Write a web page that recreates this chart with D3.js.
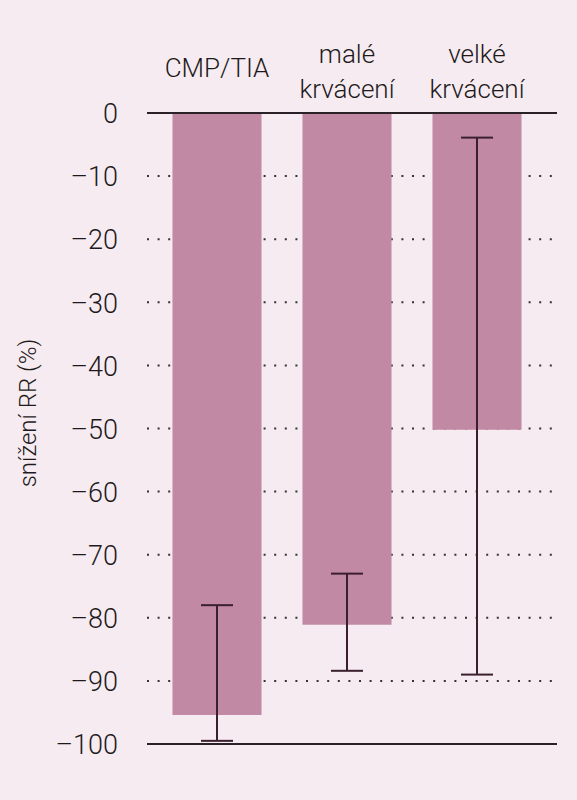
<!DOCTYPE html>
<html>
<head>
<meta charset="utf-8">
<script src="https://cdn.jsdelivr.net/npm/d3@7"></script>
<style>
    html, body { margin: 0; padding: 0; background: #f6ebf0; }
    #chart-area { width: 577px; height: 800px; }
    .label { font-family: Roboto, "Liberation Sans", Arial, sans-serif; font-weight: 300; fill: #1e1a1c; }
</style>
</head>
<body>
<div id="chart-area"></div>
<script>

// Categories (multi-line labels), bar values and 95% CI limits
const categories = ["CMP/TIA", "malé krvácení", "velké krvácení"];
const categoryLines = [["CMP/TIA"], ["malé", "krvácení"], ["velké", "krvácení"]];
const values = [-95.4, -81.1, -50.2];
const ciHigh = [-78.0, -73.0, -3.9];
const ciLow = [-99.5, -88.4, -89.0];
const yTicks = [0, -10, -20, -30, -40, -50, -60, -70, -80, -90, -100];

class BarChart {

    constructor(_parentElement) {
        this.parentElement = _parentElement;
        this.data = categories.map((c, i) => ({
            category: c,
            lines: categoryLines[i],
            value: values[i],
            high: ciHigh[i],
            low: ciLow[i]
        }));
        this.initVis();
    }

    initVis() {
        let vis = this;

        vis.margin = {top: 113, right: 20, bottom: 56, left: 147};
        vis.width = 577 - vis.margin.left - vis.margin.right;
        vis.height = 800 - vis.margin.top - vis.margin.bottom;

        vis.svg = d3.select("#" + vis.parentElement).append("svg")
            .attr("width", 577)
            .attr("height", 800)
            .append("g")
            .attr("transform", "translate(" + vis.margin.left + "," + vis.margin.top + ")");

        // Scales
        vis.x = d3.scaleBand()
            .domain(categories)
            .range([5, 395])
            .paddingInner(0.315)
            .paddingOuter(0.1575);
        vis.y = d3.scaleLinear()
            .domain([0, -100])
            .range([0, 631]);

        // Y axis (labels only), dotted grid drawn separately
        vis.yAxis = d3.axisLeft(vis.y)
            .tickValues(yTicks)
            .tickSize(0)
            .tickPadding(29)
            .tickFormat(d => d === 0 ? "0" : "–" + Math.abs(d));

        vis.yAxisGroup = vis.svg.append("g")
            .attr("class", "axis y-axis")
            .call(vis.yAxis);
        vis.yAxisGroup.select(".domain").remove();
        vis.yAxisGroup.selectAll("text")
            .attr("class", "label")
            .style("font-size", "27px")
            .attr("dy", "0.36em");

        // Dotted grid lines
        vis.svg.append("g")
            .attr("class", "grid")
            .selectAll("line")
            .data(yTicks.filter(d => d !== 0 && d !== -100))
            .enter().append("line")
            .attr("x1", 0)
            .attr("x2", 410)
            .attr("y1", d => vis.y(d))
            .attr("y2", d => vis.y(d))
            .attr("stroke", "#333")
            .attr("stroke-width", 2)
            .attr("stroke-dasharray", "2,8.6");

        // Axis title
        vis.svg.append("text")
            .attr("class", "label")
            .attr("text-anchor", "middle")
            .attr("x", -(413 - vis.margin.top))
            .attr("y", 28 - vis.margin.left + 8)
            .attr("transform", "rotate(-90)")
            .style("font-size", "24px")
            .text("snížení RR (%)");

        vis.wrangleData();
    }

    wrangleData() {
        let vis = this;
        vis.displayData = vis.data;
        vis.updateVis();
    }

    updateVis() {
        let vis = this;

        // Bars
        vis.svg.selectAll(".bar")
            .data(vis.displayData)
            .enter().append("rect")
            .attr("class", "bar")
            .attr("x", d => vis.x(d.category))
            .attr("y", vis.y(0))
            .attr("width", vis.x.bandwidth())
            .attr("height", d => vis.y(d.value) - vis.y(0))
            .attr("fill", "#c289a5");

        // Zero and -100 lines
        vis.svg.selectAll(".hline")
            .data([0, -100])
            .enter().append("line")
            .attr("class", "hline")
            .attr("x1", 0)
            .attr("x2", 410)
            .attr("y1", d => vis.y(d))
            .attr("y2", d => vis.y(d))
            .attr("stroke", "#2a2226")
            .attr("stroke-width", 2);

        // Error bars
        let cap = 16;
        let err = vis.svg.selectAll(".err")
            .data(vis.displayData)
            .enter().append("g")
            .attr("class", "err")
            .attr("stroke", "#3a1f2c")
            .attr("stroke-width", 2);

        err.append("line")
            .attr("x1", d => vis.x(d.category) + vis.x.bandwidth() / 2)
            .attr("x2", d => vis.x(d.category) + vis.x.bandwidth() / 2)
            .attr("y1", d => vis.y(d.high))
            .attr("y2", d => vis.y(d.low));
        err.append("line")
            .attr("x1", d => vis.x(d.category) + vis.x.bandwidth() / 2 - cap)
            .attr("x2", d => vis.x(d.category) + vis.x.bandwidth() / 2 + cap)
            .attr("y1", d => vis.y(d.high))
            .attr("y2", d => vis.y(d.high));
        err.append("line")
            .attr("x1", d => vis.x(d.category) + vis.x.bandwidth() / 2 - cap)
            .attr("x2", d => vis.x(d.category) + vis.x.bandwidth() / 2 + cap)
            .attr("y1", d => vis.y(d.low))
            .attr("y2", d => vis.y(d.low));

        // Category labels above the plot
        let labels = vis.svg.selectAll(".cat-label")
            .data(vis.displayData)
            .enter().append("text")
            .attr("class", "label cat-label")
            .attr("text-anchor", "middle")
            .style("font-size", "26px")
            .attr("x", d => vis.x(d.category) + vis.x.bandwidth() / 2)
            .attr("y", d => d.lines.length === 1 ? 77 - vis.margin.top : 63 - vis.margin.top);

        labels.selectAll("tspan")
            .data(d => d.lines)
            .enter().append("tspan")
            .attr("x", function() { return d3.select(this.parentNode).attr("x"); })
            .attr("dy", (d, i) => i === 0 ? 0 : 35)
            .text(d => d);
    }
}

new BarChart("chart-area");

</script>
</body>
</html>
